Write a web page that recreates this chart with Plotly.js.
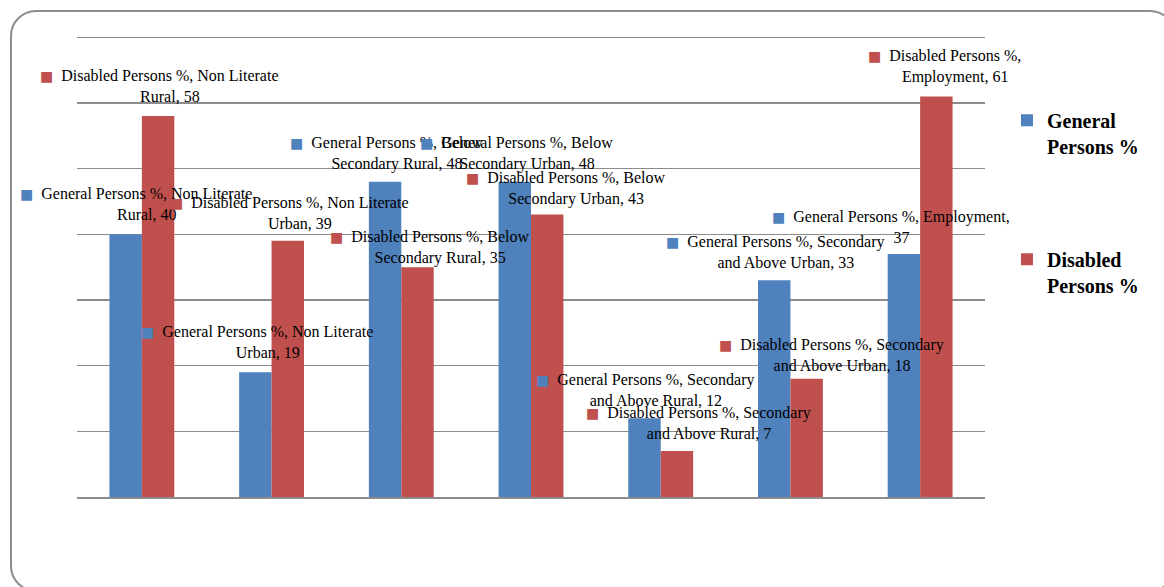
<!DOCTYPE html>
<html><head><meta charset="utf-8">
<script src="https://cdn.plot.ly/plotly-3.0.1.min.js"></script>
<style>
html,body{margin:0;padding:0;overflow:hidden;background:#fff;width:1164px;height:587px;}
#chart{width:1164px;height:587px;position:absolute;left:0;top:0;}
#frame{position:absolute;left:10px;top:10px;width:1166px;height:582px;border:2px solid #8c8c8c;border-radius:26px;box-sizing:border-box;pointer-events:none;z-index:5;}
</style></head><body>
<div id="chart"></div><div id="frame"></div>
<script>
const categories = ["Non Literate Rural","Non Literate Urban","Below Secondary Rural","Below Secondary Urban","Secondary and Above Rural","Secondary and Above Urban","Employment"];
const generalPersons = [40,19,48,48,12,33,37];
const disabledPersons = [58,39,35,43,7,18,61];
const seriesNames = ["General Persons %","Disabled Persons %"];
const legendLabels = ["General<br>Persons %","Disabled<br>Persons %"];

// label placement (pixels, relative to the top centre of each bar)
const generalLabelDx = [21,12,12,12,12,12,-2];
const generalLabelDy = [-41,-41,-39,-39,-39,-39,-37];
const disabledLabelDx = [12,12,23,29,32,35,19];
const disabledLabelDy = [-40,-38,-30,-37,-38,-34,-40];

const colors = ["#4F81BD","#C0504D"];
const labelFont = 16;
const fontFamily = "Liberation Serif";
const sqFamily = "DejaVu Sans";
const sqSize = 14;

const cv = document.createElement("canvas").getContext("2d");
function textW(t, size, fam){ cv.font = size + "px '" + (fam || fontFamily) + "'"; return cv.measureText(t).width; }
function wrap(t, maxW){
  const words = t.split(" ");
  const lines = [];
  let cur = "";
  for (const w of words){
    const test = cur ? cur + " " + w : w;
    if (cur && textW(test, labelFont) > maxW){ lines.push(cur); cur = w; }
    else cur = test;
  }
  if (cur) lines.push(cur);
  return lines;
}
const gap = "\u00a0 ";
const prefixW = textW("\u25A0", sqSize, sqFamily) + textW(gap, labelFont);

const annotations = [];
function addLabels(values, sIdx, dxs, dys){
  values.forEach((v, i) => {
    const lines = wrap(seriesNames[sIdx] + ", " + categories[i] + ", " + v, 220);
    const txt = lines.map((ln, k) =>
      '<span style="font-family:\'' + sqFamily + '\';font-size:' + sqSize + 'px;color:' + (k === 0 ? colors[sIdx] : 'rgba(0,0,0,0)') + '">\u25A0</span>' + gap + ln
    ).join("<br>");
    const lh = labelFont * 1.3;
    annotations.push({
      x: i + (sIdx === 0 ? -0.125 : 0.125), y: v, xref: "x", yref: "y",
      text: txt, showarrow: false, align: "center",
      xanchor: "center", yanchor: "middle",
      xshift: dxs[i] - prefixW / 2,
      yshift: -(dys[i] + lh * (lines.length - 1) / 2),
      font: {family: fontFamily, size: labelFont, color: "#000"}
    });
  });
}
addLabels(generalPersons, 0, generalLabelDx, generalLabelDy);
addLabels(disabledPersons, 1, disabledLabelDx, disabledLabelDy);

const traces = [generalPersons, disabledPersons].map((vals, s) => ({
  type: "bar", x: categories, y: vals, name: legendLabels[s],
  legendgroup: "g" + s,
  marker: {color: colors[s], line: {width: 0}},
  hoverinfo: "skip"
}));

const layout = {
  width: 1164, height: 587,
  margin: {l: 77, r: 179, t: 34, b: 90, pad: 0},
  paper_bgcolor: "#fff", plot_bgcolor: "#fff",
  font: {family: fontFamily, color: "#000"},
  barmode: "group", bargap: 0.5, bargroupgap: 0,
  showlegend: true,
  legend: {
    x: 1.0242, xanchor: "left", y: 0.856, yanchor: "top",
    traceorder: "grouped", tracegroupgap: 84, valign: "top",
    font: {family: fontFamily, size: 20, color: "#000", weight: "bold"},
    bgcolor: "rgba(0,0,0,0)"
  },
  xaxis: {type: "category", range: [-0.5, 6.5], autorange: false,
          showticklabels: false, showgrid: false, ticks: "",
          showline: true, linecolor: "#8c8c8c", linewidth: 1.5, fixedrange: true},
  yaxis: {range: [0, 70.5], autorange: false, dtick: 10, tick0: 0, showticklabels: false, ticks: "",
          showgrid: true, gridcolor: "#8c8c8c", gridwidth: 1.5, zeroline: false,
          showline: false, fixedrange: true},
  annotations: annotations
};
Plotly.newPlot("chart", traces, layout, {displayModeBar: false, staticPlot: true});
</script>
</body></html>
